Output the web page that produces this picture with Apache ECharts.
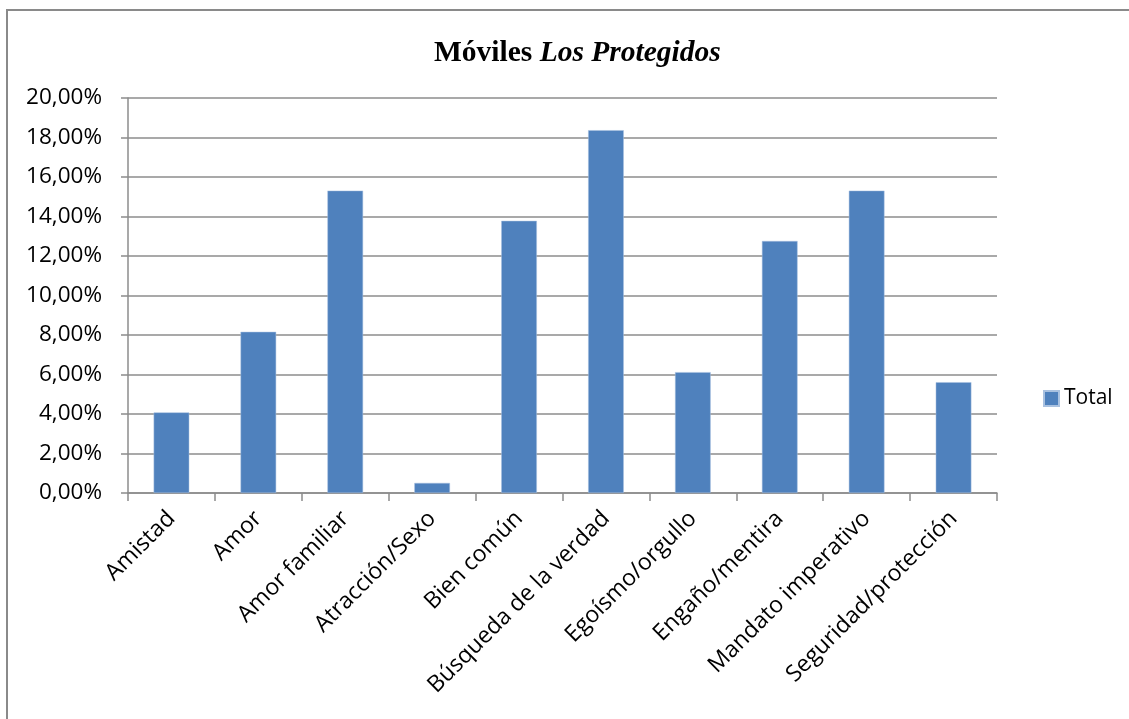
<!DOCTYPE html>
<html>
<head>
<meta charset="utf-8">
<script src="https://cdn.jsdelivr.net/npm/echarts@6/dist/echarts.min.js"></script>
<style>
  html, body { margin: 0; padding: 0; background: #fff; }
  #chart { width: 1129px; height: 719px; }
</style>
</head>
<body>
<div id="chart"></div>
<script>
var categories = [
  "Amistad", "Amor", "Amor familiar", "Atracción/Sexo", "Bien común",
  "Búsqueda de la verdad", "Egoísmo/orgullo", "Engaño/mentira",
  "Mandato imperativo", "Seguridad/protección"
];
// percentages
var totals = [4.08, 8.16, 15.31, 0.51, 13.78, 18.37, 6.12, 12.76, 15.31, 5.61];
var seriesName = "Total";

var LABEL_FONT = "'Open Sans', 'Noto Sans', sans-serif";
var GRID_COLOR = "#8c8c8c";

var chart = echarts.init(document.getElementById("chart"));

var fmtPct = (v) => v.toFixed(2).replace(".", ",") + "%";

chart.setOption({
  backgroundColor: "#fff",
  animation: false,
  title: {
    text: "{b|Móviles }{bi|Los Protegidos}",
    left: 429,
    top: 33,
    textStyle: {
      rich: {
        b: { fontFamily: "'Liberation Serif', serif", fontWeight: "bold", fontSize: 29.5, color: "#000" },
        bi: { fontFamily: "'Liberation Serif', serif", fontWeight: "bold", fontStyle: "italic", fontSize: 29.5, color: "#000" }
      }
    }
  },
  legend: {
    data: [seriesName],
    orient: "vertical",
    left: 1038,
    top: 383,
    icon: "rect",
    itemWidth: 15,
    itemHeight: 15,
    itemGap: 5,
    textStyle: { fontFamily: LABEL_FONT, fontSize: 21, color: "#000" }
  },
  grid: {
    left: 128,
    right: 132,
    top: 98,
    bottom: 226,
    containLabel: false
  },
  xAxis: {
    type: "category",
    data: categories,
    axisLine: { lineStyle: { color: GRID_COLOR, width: 1.5 } },
    axisTick: { show: true, length: 8, alignWithLabel: false, lineStyle: { color: GRID_COLOR, width: 1.5 } },
    axisLabel: {
      rotate: 45,
      interval: 0,
      margin: 22,
      fontFamily: LABEL_FONT,
      fontSize: 23,
      color: "#000"
    }
  },
  yAxis: {
    type: "value",
    min: 0,
    max: 20,
    interval: 2,
    axisLine: { show: true, lineStyle: { color: GRID_COLOR, width: 1.5 } },
    axisTick: { show: true, length: 7, inside: false, lineStyle: { color: GRID_COLOR, width: 1.5 } },
    splitLine: { lineStyle: { color: GRID_COLOR, width: 1.5 } },
    axisLabel: {
      formatter: fmtPct,
      margin: 26,
      fontFamily: LABEL_FONT,
      fontSize: 22.5,
      color: "#000"
    }
  },
  series: [
    {
      name: seriesName,
      type: "bar",
      data: totals,
      barWidth: "41%",
      itemStyle: { color: "#4F81BD", borderColor: "#a9c1e0", borderWidth: 0.5 }
    }
  ],
  graphic: [
    {
      type: "rect",
      shape: { x: 7, y: 10, width: 1140, height: 730 },
      style: { fill: "none", stroke: "#8a8a8a", lineWidth: 2 },
      silent: true
    }
  ]
});
</script>
</body>
</html>
